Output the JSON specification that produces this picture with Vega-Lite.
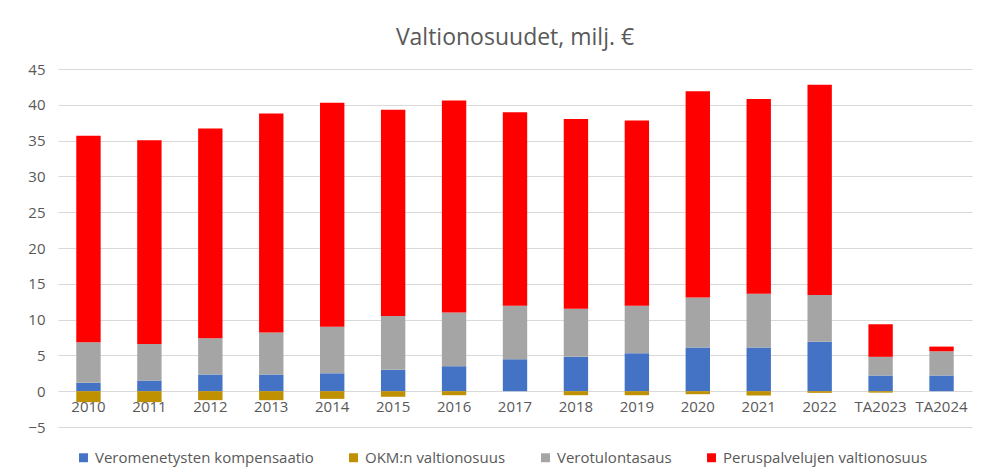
{
  "$schema": "https://vega.github.io/schema/vega-lite/v6.json",
  "autosize": {"type": "none"},
  "width": 914,
  "height": 358,
  "padding": {"left": 58, "top": 69, "right": 10, "bottom": 45},
  "background": "white",
  "title": {
    "text": "Valtionosuudet, milj. €",
    "font": "Open Sans",
    "fontSize": 23,
    "fontWeight": "normal",
    "color": "#595959",
    "anchor": "middle",
    "offset": 12
  },
  "data": {
    "values": [
      {"vuosi": "2010", "sarja": "Veromenetysten kompensaatio", "arvo": 1.17, "j": 1},
      {"vuosi": "2010", "sarja": "OKM:n valtionosuus", "arvo": -1.53, "j": 2},
      {"vuosi": "2010", "sarja": "Verotulontasaus", "arvo": 5.66, "j": 3},
      {"vuosi": "2010", "sarja": "Peruspalvelujen valtionosuus", "arvo": 28.83, "j": 4},
      {"vuosi": "2011", "sarja": "Veromenetysten kompensaatio", "arvo": 1.49, "j": 1},
      {"vuosi": "2011", "sarja": "OKM:n valtionosuus", "arvo": -1.53, "j": 2},
      {"vuosi": "2011", "sarja": "Verotulontasaus", "arvo": 5.11, "j": 3},
      {"vuosi": "2011", "sarja": "Peruspalvelujen valtionosuus", "arvo": 28.46, "j": 4},
      {"vuosi": "2012", "sarja": "Veromenetysten kompensaatio", "arvo": 2.33, "j": 1},
      {"vuosi": "2012", "sarja": "OKM:n valtionosuus", "arvo": -1.25, "j": 2},
      {"vuosi": "2012", "sarja": "Verotulontasaus", "arvo": 5.07, "j": 3},
      {"vuosi": "2012", "sarja": "Peruspalvelujen valtionosuus", "arvo": 29.3, "j": 4},
      {"vuosi": "2013", "sarja": "Veromenetysten kompensaatio", "arvo": 2.33, "j": 1},
      {"vuosi": "2013", "sarja": "OKM:n valtionosuus", "arvo": -1.25, "j": 2},
      {"vuosi": "2013", "sarja": "Verotulontasaus", "arvo": 5.87, "j": 3},
      {"vuosi": "2013", "sarja": "Peruspalvelujen valtionosuus", "arvo": 30.6, "j": 4},
      {"vuosi": "2014", "sarja": "Veromenetysten kompensaatio", "arvo": 2.5, "j": 1},
      {"vuosi": "2014", "sarja": "OKM:n valtionosuus", "arvo": -1.07, "j": 2},
      {"vuosi": "2014", "sarja": "Verotulontasaus", "arvo": 6.5, "j": 3},
      {"vuosi": "2014", "sarja": "Peruspalvelujen valtionosuus", "arvo": 31.3, "j": 4},
      {"vuosi": "2015", "sarja": "Veromenetysten kompensaatio", "arvo": 2.98, "j": 1},
      {"vuosi": "2015", "sarja": "OKM:n valtionosuus", "arvo": -0.78, "j": 2},
      {"vuosi": "2015", "sarja": "Verotulontasaus", "arvo": 7.52, "j": 3},
      {"vuosi": "2015", "sarja": "Peruspalvelujen valtionosuus", "arvo": 28.8, "j": 4},
      {"vuosi": "2016", "sarja": "Veromenetysten kompensaatio", "arvo": 3.49, "j": 1},
      {"vuosi": "2016", "sarja": "OKM:n valtionosuus", "arvo": -0.56, "j": 2},
      {"vuosi": "2016", "sarja": "Verotulontasaus", "arvo": 7.51, "j": 3},
      {"vuosi": "2016", "sarja": "Peruspalvelujen valtionosuus", "arvo": 29.6, "j": 4},
      {"vuosi": "2017", "sarja": "Veromenetysten kompensaatio", "arvo": 4.46, "j": 1},
      {"vuosi": "2017", "sarja": "OKM:n valtionosuus", "arvo": 0, "j": 2},
      {"vuosi": "2017", "sarja": "Verotulontasaus", "arvo": 7.49, "j": 3},
      {"vuosi": "2017", "sarja": "Peruspalvelujen valtionosuus", "arvo": 27.02, "j": 4},
      {"vuosi": "2018", "sarja": "Veromenetysten kompensaatio", "arvo": 4.8, "j": 1},
      {"vuosi": "2018", "sarja": "OKM:n valtionosuus", "arvo": -0.56, "j": 2},
      {"vuosi": "2018", "sarja": "Verotulontasaus", "arvo": 6.7, "j": 3},
      {"vuosi": "2018", "sarja": "Peruspalvelujen valtionosuus", "arvo": 26.5, "j": 4},
      {"vuosi": "2019", "sarja": "Veromenetysten kompensaatio", "arvo": 5.3, "j": 1},
      {"vuosi": "2019", "sarja": "OKM:n valtionosuus", "arvo": -0.56, "j": 2},
      {"vuosi": "2019", "sarja": "Verotulontasaus", "arvo": 6.65, "j": 3},
      {"vuosi": "2019", "sarja": "Peruspalvelujen valtionosuus", "arvo": 25.85, "j": 4},
      {"vuosi": "2020", "sarja": "Veromenetysten kompensaatio", "arvo": 6.1, "j": 1},
      {"vuosi": "2020", "sarja": "OKM:n valtionosuus", "arvo": -0.42, "j": 2},
      {"vuosi": "2020", "sarja": "Verotulontasaus", "arvo": 7.0, "j": 3},
      {"vuosi": "2020", "sarja": "Peruspalvelujen valtionosuus", "arvo": 28.8, "j": 4},
      {"vuosi": "2021", "sarja": "Veromenetysten kompensaatio", "arvo": 6.1, "j": 1},
      {"vuosi": "2021", "sarja": "OKM:n valtionosuus", "arvo": -0.6, "j": 2},
      {"vuosi": "2021", "sarja": "Verotulontasaus", "arvo": 7.5, "j": 3},
      {"vuosi": "2021", "sarja": "Peruspalvelujen valtionosuus", "arvo": 27.2, "j": 4},
      {"vuosi": "2022", "sarja": "Veromenetysten kompensaatio", "arvo": 6.9, "j": 1},
      {"vuosi": "2022", "sarja": "OKM:n valtionosuus", "arvo": -0.23, "j": 2},
      {"vuosi": "2022", "sarja": "Verotulontasaus", "arvo": 6.55, "j": 3},
      {"vuosi": "2022", "sarja": "Peruspalvelujen valtionosuus", "arvo": 29.35, "j": 4},
      {"vuosi": "TA2023", "sarja": "Veromenetysten kompensaatio", "arvo": 2.19, "j": 1},
      {"vuosi": "TA2023", "sarja": "OKM:n valtionosuus", "arvo": -0.2, "j": 2},
      {"vuosi": "TA2023", "sarja": "Verotulontasaus", "arvo": 2.61, "j": 3},
      {"vuosi": "TA2023", "sarja": "Peruspalvelujen valtionosuus", "arvo": 4.55, "j": 4},
      {"vuosi": "TA2024", "sarja": "Veromenetysten kompensaatio", "arvo": 2.19, "j": 1},
      {"vuosi": "TA2024", "sarja": "OKM:n valtionosuus", "arvo": 0, "j": 2},
      {"vuosi": "TA2024", "sarja": "Verotulontasaus", "arvo": 3.39, "j": 3},
      {"vuosi": "TA2024", "sarja": "Peruspalvelujen valtionosuus", "arvo": 0.65, "j": 4}
    ]
  },
  "mark": {"type": "bar"},
  "encoding": {
    "x": {
      "field": "vuosi",
      "type": "nominal",
      "sort": null,
      "scale": {"paddingInner": 0.6, "paddingOuter": 0.3},
      "axis": {
        "title": null,
        "labelAngle": 0,
        "domain": false,
        "ticks": false,
        "grid": false,
        "offset": -36,
        "labelPadding": 8,
        "labelFont": "Open Sans",
        "labelFontSize": 15,
        "labelColor": "#595959"
      }
    },
    "y": {
      "field": "arvo",
      "type": "quantitative",
      "stack": "zero",
      "scale": {"domain": [-5, 45], "nice": false},
      "axis": {
        "title": null,
        "values": [-5, 0, 5, 10, 15, 20, 25, 30, 35, 40, 45],
        "domain": false,
        "ticks": false,
        "gridColor": "#d9d9d9",
        "gridWidth": 1,
        "labelPadding": 13,
        "labelFont": "Open Sans",
        "labelFontSize": 15,
        "labelColor": "#595959"
      }
    },
    "color": {
      "field": "sarja",
      "type": "nominal",
      "scale": {
        "domain": ["Veromenetysten kompensaatio", "OKM:n valtionosuus", "Verotulontasaus", "Peruspalvelujen valtionosuus"],
        "range": ["#4472C4", "#BF9000", "#A5A5A5", "#FF0000"]
      },
      "legend": {
        "title": null,
        "orient": "none",
        "legendX": 18,
        "legendY": 381,
        "direction": "horizontal",
        "symbolType": "square",
        "symbolSize": 80,
        "symbolStrokeWidth": 0,
        "labelFont": "Open Sans",
        "labelFontSize": 15,
        "labelColor": "#595959",
        "labelLimit": 400,
        "labelOffset": 4,
        "columnPadding": 32
      }
    },
    "order": {"field": "j", "type": "quantitative"}
  },
  "config": {
    "view": {"stroke": null}
  }
}
